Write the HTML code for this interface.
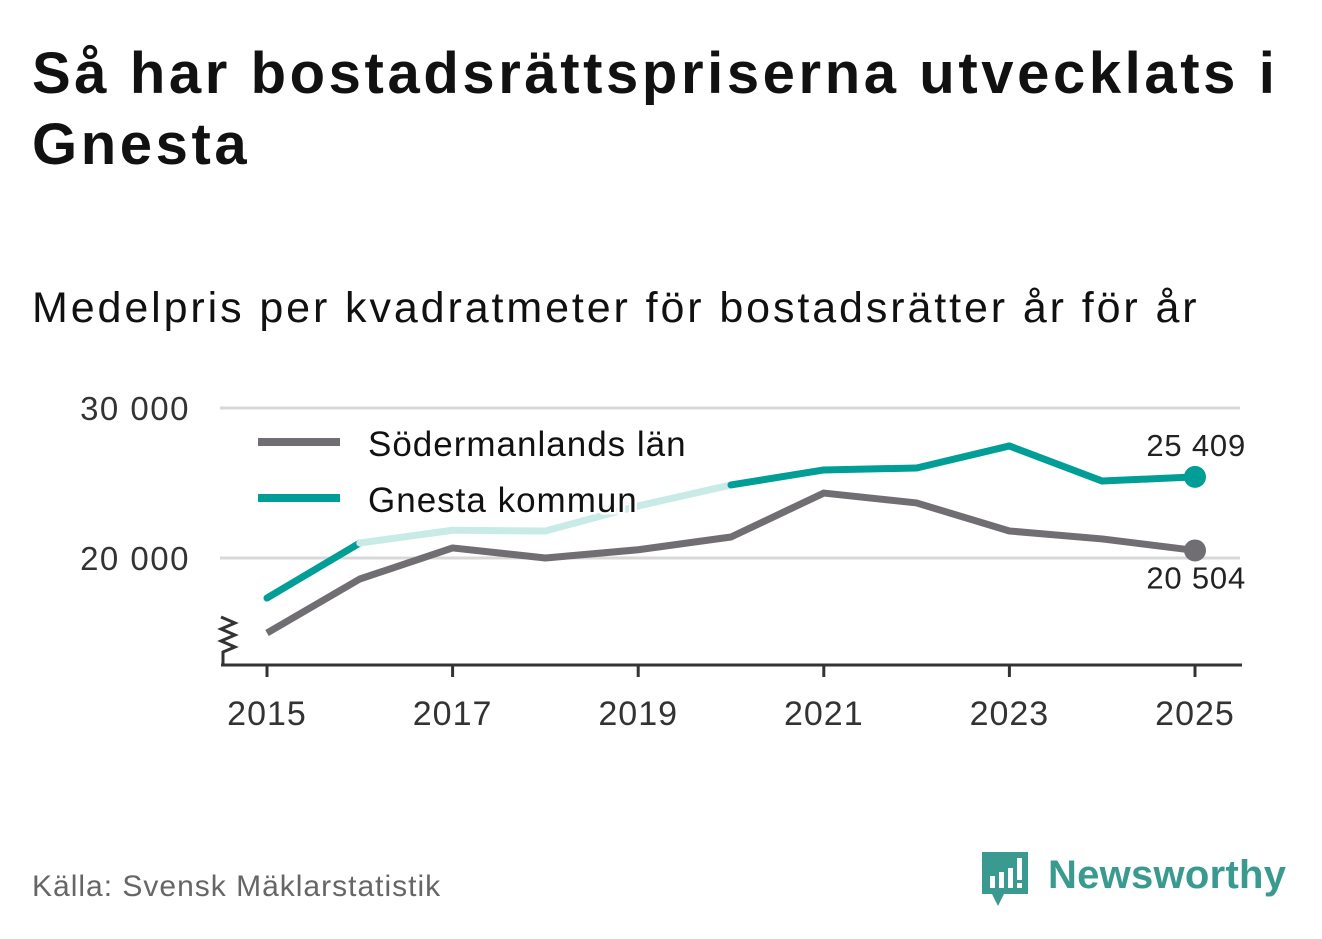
<!DOCTYPE html>
<html><head><meta charset="utf-8"><style>
body{margin:0;background:#fff;width:1322px;height:939px;overflow:hidden;font-family:"Liberation Sans",sans-serif}
#title{position:absolute;left:32px;top:38px;font-size:58px;font-weight:bold;line-height:71px;color:#111;width:1290px;letter-spacing:3.6px;white-space:nowrap}
#sub{position:absolute;left:32px;top:284px;font-size:43px;color:#111;letter-spacing:2.9px;white-space:nowrap}
#src{position:absolute;left:32px;top:870px;font-size:30px;color:#666;letter-spacing:1px}
#logo{position:absolute;left:980px;top:848px}
</style></head><body>
<div id="title">Så har bostadsrättspriserna utvecklats i<br>Gnesta</div>
<div id="sub">Medelpris per kvadratmeter för bostadsrätter år för år</div>
<svg id="chart" width="1322" height="939" style="position:absolute;left:0;top:0"></svg>
<div id="src">Källa: Svensk Mäklarstatistik</div>
<div id="logo">
<svg width="320" height="62"><path d="M2 4h46v42H24l-6 12-6-12H2z" fill="#3a9a90"/>
<rect x="10" y="28" width="5" height="12" fill="#fff"/><rect x="19" y="24" width="5" height="16" fill="#fff"/><rect x="28" y="20" width="5" height="20" fill="#fff"/><rect x="37" y="10" width="5" height="22" fill="#fff"/><rect x="37" y="35" width="5" height="5" fill="#fff"/>
<text x="68" y="40" font-size="40" font-weight="bold" fill="#3a9a90" textLength="238" font-family="Liberation Sans, sans-serif">Newsworthy</text></svg></div>
<script>
const years=[2015,2016,2017,2018,2019,2020,2021,2022,2023,2024,2025];
const sodValues=[15000,18600,20670,20000,20550,21400,24330,23670,21800,21270,20504];
const gnestaValues=[17330,21000,21850,21800,23470,24870,25870,26000,27470,25130,25409];
const gnestaLight=[false,true,true,true,true,false,false,false,false,false];
const yTicks=[20000,30000];
const xTicks=[2015,2017,2019,2021,2023,2025];
const NS="http://www.w3.org/2000/svg";
const svg=document.getElementById('chart');
const x=v=>267+(v-2015)*92.8;
const y=v=>558-(v-20000)*0.015;
function el(t,a,p){const e=document.createElementNS(NS,t);for(const k in a)e.setAttribute(k,a[k]);(p||svg).appendChild(e);return e;}
const fmt=v=>String(v).replace(/\B(?=(\d{3})+(?!\d))/g,' ');
yTicks.forEach(t=>{
 const g=el('line',{x1:220,x2:1240,y1:y(t),y2:y(t),stroke:'#d8d8d8','stroke-width':3});
 
 
 const l=el('text',{x:190,y:y(t)+12,'text-anchor':'end','font-size':33,'letter-spacing':1.5,fill:'#333'});
 l.textContent=fmt(t);
 
 
});
const ax=el('path',{d:'M221 665H1242M221 617l14 6-14 6 14 6-14 6 14 6-12 5 0 13',fill:'none',stroke:'#333','stroke-width':3});


xTicks.forEach(t=>{
 const tk=el('line',{x1:x(t),x2:x(t),y1:665,y2:677,stroke:'#333','stroke-width':3});
 
 
 const l=el('text',{x:x(t),y:725,'text-anchor':'middle','font-size':34,'letter-spacing':1,fill:'#333'});
 l.textContent=t;
 
 
});
const sp=years.map((yr,i)=>x(yr)+','+y(sodValues[i])).join(' ');
const sl=el('polyline',{points:sp,fill:'none',stroke:'#706e73','stroke-width':7,'stroke-linejoin':'round'});


for(let i=0;i<years.length-1;i++){
 const s=el('line',{x1:x(years[i]),y1:y(gnestaValues[i]),x2:x(years[i+1]),y2:y(gnestaValues[i+1]),stroke:gnestaLight[i]?'#c8ebe8':'#009e96','stroke-width':7,'stroke-linecap':'round'});
 
 
}
const last=years.length-1;
const d1=el('circle',{cx:x(years[last]),cy:y(gnestaValues[last]),r:11,fill:'#009e96'});


const d2=el('circle',{cx:x(years[last]),cy:y(sodValues[last]),r:11,fill:'#706e73'});


const l1=el('text',{x:1246,y:y(gnestaValues[last])-21,'text-anchor':'end','font-size':31,'letter-spacing':0.8,fill:'#222'});
l1.textContent=fmt(gnestaValues[last]);


const l2=el('text',{x:1246,y:y(sodValues[last])+38,'text-anchor':'end','font-size':31,'letter-spacing':0.8,fill:'#222',stroke:'#fff','stroke-width':6,'paint-order':'stroke'});
l2.textContent=fmt(sodValues[last]);


[['Södermanlands län','#706e73',444],['Gnesta kommun','#009e96',500]].forEach(([n,c,yy])=>{
 const ln=el('line',{x1:258,x2:340,y1:yy-2,y2:yy-2,stroke:c,'stroke-width':8});
 
 
 const t=el('text',{x:368,y:yy+12,'font-size':35,'letter-spacing':1,fill:'#111',stroke:'#fff','stroke-width':5,'paint-order':'stroke'});
 t.textContent=n;
 
 
});
</script>
</body></html>
